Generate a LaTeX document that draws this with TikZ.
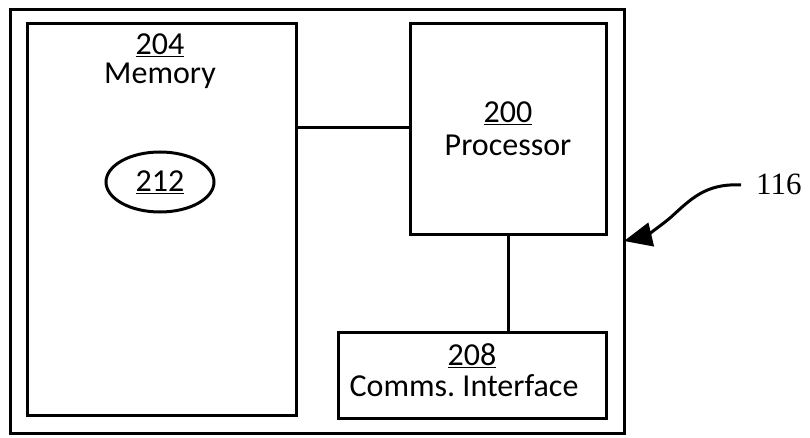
\documentclass[tikz,border=0pt]{standalone}
\usepackage{fontspec}
\setmainfont{Carlito}
\newfontfamily\serifnum{Liberation Serif}
\usetikzlibrary{arrows.meta,shapes.geometric}
\begin{document}
\begin{tikzpicture}[x=1pt,y=-1pt,
  box/.style={draw=black,line width=3pt},
  lbl/.style={font=\fontsize{32}{34}\selectfont,inner sep=0pt,align=center},
  wire/.style={line width=3pt}]
\useasboundingbox (0,0) rectangle (810,438);
% outer device
\draw[box] (10,10) rectangle (624,433);
\coordinate (outerR) at (624,241);
% memory
\node[box,minimum width=269pt,minimum height=391pt,inner sep=0pt] (mem) at (161.5,219.5) {};
\node[lbl] (n204) at (160,45) {\underline{204}};
\node[lbl] (memt) at (160,76) {Memory};
\node[box,ellipse,minimum width=108pt,minimum height=60pt,inner sep=0pt] (e212) at (160,182) {};
\node[lbl] at (e212.center) {\underline{212}};
% processor
\node[box,minimum width=196pt,minimum height=210pt,inner sep=0pt] (proc) at (508,129) {};
\node[lbl] (n200) at (508,113) {\underline{200}};
\node[lbl] (proct) at (508,145) {Processor};
% comms
\node[box,minimum width=268pt,minimum height=86pt,inner sep=0pt] (comm) at (472,375) {};
\node[lbl] (n208) at (472,356) {\underline{208}};
\node[lbl] (commt) at (464,386) {Comms.\ Interface};
% connectors
\draw[wire] (mem.east |- 0,128) -- (proc.west |- 0,128);
\draw[wire] (proc.south -| 508,0) -- (comm.north -| 508,0);
% label 116
\node[font=\serifnum\fontsize{31}{33}\selectfont,inner sep=0pt,anchor=west] (n116) at (756,184) {116};
\coordinate (arrstart) at (741,185);
\draw[line width=3pt,-{Triangle[length=28pt,width=24pt]}] (arrstart) .. controls (705,183) and (690,200) .. (670,218) .. controls (658,228) and (645,236) .. (outerR);
\end{tikzpicture}
\end{document}
